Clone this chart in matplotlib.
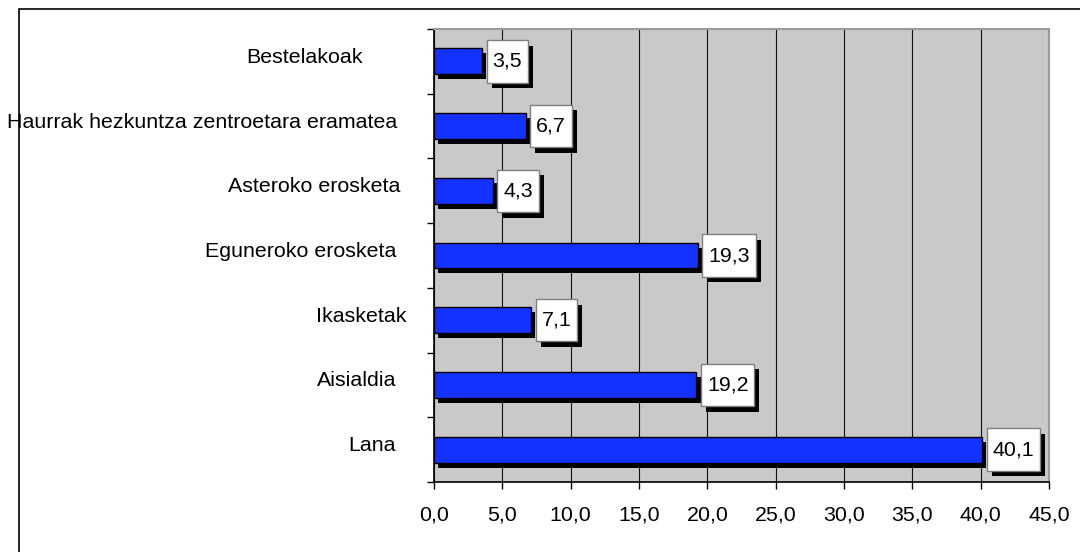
import matplotlib
matplotlib.use("Agg")
import matplotlib.pyplot as plt
import matplotlib.transforms as mtransforms
import matplotlib.patheffects as pe
from matplotlib.path import Path
from matplotlib.patches import Rectangle

# datuak (behetik gora)
categories = ["Lana", "Aisialdia", "Ikasketak", "Eguneroko erosketa",
              "Asteroko erosketa", "Haurrak hezkuntza zentroetara eramatea",
              "Bestelakoak"]
values = [40.1, 19.2, 7.1, 19.3, 4.3, 6.7, 3.5]
x_ticks = [0, 5, 10, 15, 20, 25, 30, 35, 40, 45]

plt.rcParams['font.family'] = ['Liberation Sans', 'DejaVu Sans']
FS = 15.4


def comma(v):
    return f"{v:.1f}".replace('.', ',')


def label_box(x0, y0, width, height, mutation_size):
    px = 0.27 * mutation_size
    py = 0.55 * mutation_size
    verts = [(x0 - px, y0 - py), (x0 + width + px, y0 - py),
             (x0 + width + px, y0 + height + py), (x0 - px, y0 + height + py),
             (x0 - px, y0 - py)]
    codes = [Path.MOVETO, Path.LINETO, Path.LINETO, Path.LINETO, Path.CLOSEPOLY]
    return Path(verts, codes)


fig = plt.figure(figsize=(10.8, 5.52), dpi=100)
ax = fig.add_axes([434 / 1080, 1 - 482 / 552, 615 / 1080, 453 / 552])
ax.set_facecolor('#c9c9c9')

# kanpoko markoa
fig.add_artist(Rectangle((19 / 1080, -0.1), 1.2, 1.1 - 9 / 552,
                         transform=fig.transFigure, fill=False,
                         edgecolor='black', linewidth=1.2, clip_on=False))

y = list(range(len(categories)))
shadow = [pe.SimplePatchShadow(offset=(3.2, -3.6), shadow_rgbFace='black', alpha=1.0),
          pe.Normal()]
bars = ax.barh(y, values, height=0.4, color='#1432ff', edgecolor='black',
               linewidth=1.0, zorder=3)
for b in bars:
    b.set_path_effects(shadow)

ax.set_xlim(0, 45)
ax.set_ylim(-0.5, len(categories) - 0.5)
ax.set_xticks(x_ticks)
ax.set_xticklabels([comma(t) for t in x_ticks], fontsize=FS)
ax.set_yticks([i - 0.5 for i in range(len(categories) + 1)])
ax.set_yticklabels([])
ax.tick_params(axis='x', direction='out', length=5, width=1, pad=12)
ax.tick_params(axis='y', direction='out', length=5, width=1)

ax.grid(axis='x', color='#111111', linewidth=0.8, zorder=1)
ax.set_axisbelow(True)
for side in ['top', 'right']:
    ax.spines[side].set_color('#9a9a9a')
    ax.spines[side].set_linewidth(1.5)
for side in ['left', 'bottom']:
    ax.spines[side].set_color('black')
    ax.spines[side].set_linewidth(1.2)

# kategorien etiketak
label_gap_px = [38, 38, 28, 38, 34, 37, 71]
for i, name in enumerate(categories):
    tr = ax.get_yaxis_transform() + mtransforms.ScaledTranslation(
        -label_gap_px[i] / 100, 4 / 100, fig.dpi_scale_trans)
    ax.text(0, i, name, transform=tr, ha='right', va='center', fontsize=FS)

# balioen etiketak
for i, v in enumerate(values):
    t = ax.annotate(comma(v), (v, i), xytext=(10.5, 0), textcoords='offset pixels',
                    ha='left', va='center', fontsize=FS, zorder=5,
                    bbox=dict(boxstyle=label_box, facecolor='white',
                              edgecolor='#7f7f7f', linewidth=1.0))
    t.get_bbox_patch().set_path_effects(
        [pe.SimplePatchShadow(offset=(3.6, -4.0), shadow_rgbFace='black', alpha=1.0),
         pe.Normal()])

fig.savefig('out.png', dpi=100)
